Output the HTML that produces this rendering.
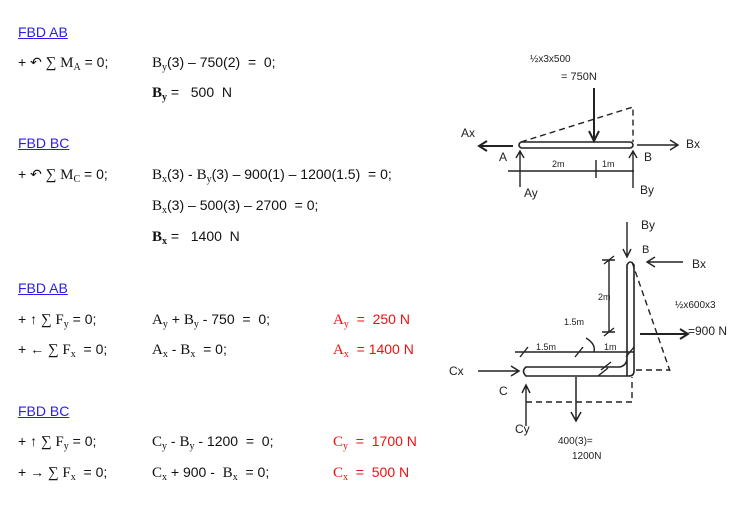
<!DOCTYPE html>
<html><head><meta charset="utf-8"><style>
body{margin:0;width:745px;height:521px;background:#fff;position:relative;overflow:hidden;font-family:"Liberation Sans",sans-serif;font-size:14px;color:#111}
.t{position:absolute;white-space:nowrap;line-height:16px}
.h{color:#2a1cf0;text-decoration:underline}
.r{color:#f01010}
.s{font-family:"Liberation Serif",serif;font-size:15px}
sub{font-size:10px;vertical-align:-3px;line-height:0}
</style></head><body>
<div class="t h" style="left:18px;top:24px">FBD AB</div>
<div class="t" style="left:18px;top:54px">+ ↶ <span class="s">∑ M<sub>A</sub></span> = 0;</div>
<div class="t" style="left:152px;top:54px"><span class="s">B<sub>y</sub></span>(3) – 750(2)&nbsp; =&nbsp; 0;</div>
<div class="t" style="left:152px;top:84px"><b class="s">B<sub>y</sub></b> =&nbsp;&nbsp; 500&nbsp; N</div>
<div class="t h" style="left:18px;top:135px">FBD BC</div>
<div class="t" style="left:18px;top:166px">+ ↶ <span class="s">∑ M<sub>C</sub></span> = 0;</div>
<div class="t" style="left:152px;top:166px"><span class="s">B<sub>x</sub></span>(3) - <span class="s">B<sub>y</sub></span>(3) – 900(1) – 1200(1.5)&nbsp; = 0;</div>
<div class="t" style="left:152px;top:197px"><span class="s">B<sub>x</sub></span>(3) – 500(3) – 2700&nbsp; = 0;</div>
<div class="t" style="left:152px;top:228px"><b class="s">B<sub>x</sub></b> =&nbsp;&nbsp; 1400&nbsp; N</div>
<div class="t h" style="left:18px;top:280px">FBD AB</div>
<div class="t" style="left:18px;top:311px">+ ↑ <span class="s">∑ F<sub>y</sub></span> = 0;</div>
<div class="t" style="left:152px;top:311px"><span class="s">A<sub>y</sub></span> + <span class="s">B<sub>y</sub></span> - 750&nbsp; =&nbsp; 0;</div>
<div class="t r" style="left:333px;top:311px"><span class="s">A<sub>y</sub></span>&nbsp; =&nbsp; 250 N</div>
<div class="t" style="left:18px;top:341px">+ ← <span class="s">∑ F<sub>x</sub></span>&nbsp; = 0;</div>
<div class="t" style="left:152px;top:341px"><span class="s">A<sub>x</sub></span> - <span class="s">B<sub>x</sub></span>&nbsp; = 0;</div>
<div class="t r" style="left:333px;top:341px"><span class="s">A<sub>x</sub></span>&nbsp; = 1400 N</div>
<div class="t h" style="left:18px;top:403px">FBD BC</div>
<div class="t" style="left:18px;top:433px">+ ↑ <span class="s">∑ F<sub>y</sub></span> = 0;</div>
<div class="t" style="left:152px;top:433px"><span class="s">C<sub>y</sub></span> - <span class="s">B<sub>y</sub></span> - 1200&nbsp; =&nbsp; 0;</div>
<div class="t r" style="left:333px;top:433px"><span class="s">C<sub>y</sub></span>&nbsp; =&nbsp; 1700 N</div>
<div class="t" style="left:18px;top:464px">+ → <span class="s">∑ F<sub>x</sub></span>&nbsp; = 0;</div>
<div class="t" style="left:152px;top:464px"><span class="s">C<sub>x</sub></span> + 900 -&nbsp; <span class="s">B<sub>x</sub></span>&nbsp; = 0;</div>
<div class="t r" style="left:333px;top:464px"><span class="s">C<sub>x</sub></span>&nbsp; =&nbsp; 500 N</div>

<svg style="position:absolute;left:0;top:0" width="745" height="521" font-family="Liberation Sans, sans-serif" font-size="11" fill="#222">
<g stroke="#222" fill="none" stroke-width="1.4">
<rect x="519" y="142" width="114" height="6" rx="3" stroke-width="1.6"/>
<path d="M521 142 L633 107 L633 142" stroke-dasharray="6,4"/>
<path d="M594 88 V140 M589 131 L594 141 L599 131" stroke-width="2"/>
<path d="M513 146 H480 M487 141 L479 146 L487 151" stroke-width="2"/>
<path d="M637 145 H677 M670 140 L678 145 L670 150"/>
<path d="M520 187 V152 M516 158 L520 151 L524 158"/>
<path d="M633 188 V152 M629 158 L633 151 L637 158"/>
<path d="M508 171 H634 M596 160 V178"/>
<path d="M627 376 V265 Q630 259 634 265 V371 Q634 376 629 376 H526 Q521 371 526 367 H620 Q627 365 627 358" stroke-width="1.6"/>
<path d="M627 222 V256 M623 249 L627 257 L631 249"/>
<path d="M683 262 H648 M655 257 L647 262 L655 267"/>
<path d="M640 334 H687 M680 329 L688 334 L680 339" stroke-width="2"/>
<path d="M632 262 L670 371 M636 370 H670" stroke-dasharray="6,4"/>
<path d="M478 371 H518 M511 366 L519 371 L511 376" stroke-width="1.5"/>
<path d="M526 426 V386 M522 393 L526 385 L530 393"/>
<path d="M526 402 H632 V377" stroke-dasharray="6,4"/>
<path d="M576 377 V420 M571 412 L576 421 L581 412" stroke-width="1.5"/>
<path d="M609 260 V332 M602 260 H615 M602 332 H615 M604 264 L614 256 M604 336 L614 328"/>
<path d="M515 352 H634 M520 357 L528 347 M575 357 L583 347 M626 357 L634 347"/>
<path d="M601 370 L611 362 M598 376 L608 368"/>
<path d="M586 338 Q596 344 594 352"/>
</g>
<text x="530" y="62" font-size="10">½x3x500</text>
<text x="561" y="80">= 750N</text>
<text x="461" y="137" font-size="12">Ax</text>
<text x="499" y="161" font-size="12">A</text>
<text x="644" y="161" font-size="12">B</text>
<text x="686" y="148" font-size="12">Bx</text>
<text x="552" y="167" font-size="9">2m</text>
<text x="602" y="167" font-size="9">1m</text>
<text x="524" y="197" font-size="12">Ay</text>
<text x="640" y="194" font-size="12">By</text>
<text x="641" y="229" font-size="12">By</text>
<text x="642" y="253" font-size="11">B</text>
<text x="692" y="268" font-size="12">Bx</text>
<text x="598" y="300" font-size="9">2m</text>
<text x="675" y="308" font-size="10">½x600x3</text>
<text x="688" y="335" font-size="12">=900 N</text>
<text x="564" y="325" font-size="9">1.5m</text>
<text x="536" y="350" font-size="9">1.5m</text>
<text x="604" y="350" font-size="9">1m</text>
<text x="449" y="375" font-size="12">Cx</text>
<text x="499" y="395" font-size="12">C</text>
<text x="515" y="433" font-size="12">Cy</text>
<text x="558" y="444" font-size="10">400(3)=</text>
<text x="572" y="459" font-size="10">1200N</text>
</svg>
</body></html>
